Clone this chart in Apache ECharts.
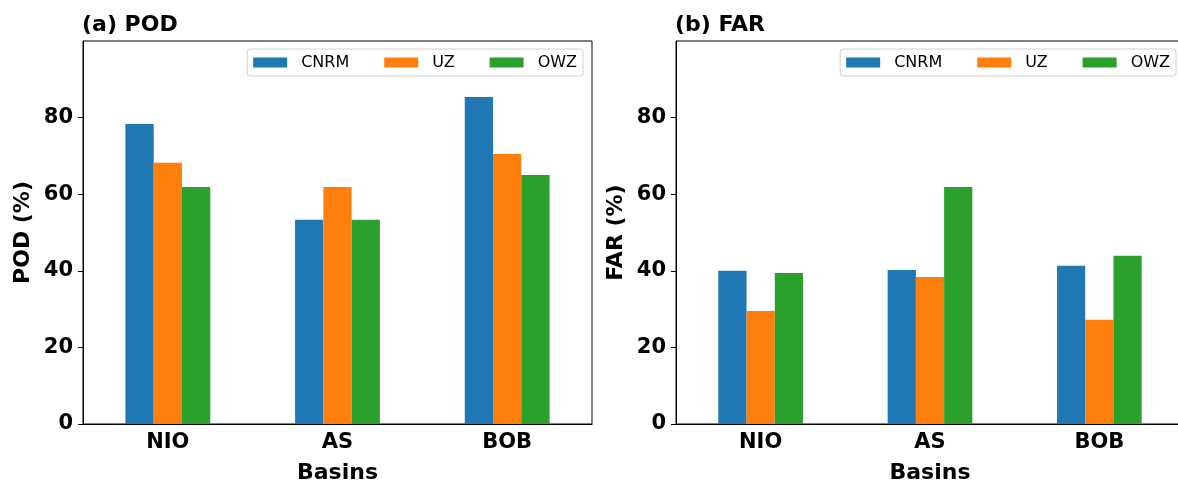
<!DOCTYPE html>
<html>
<head>
<meta charset="utf-8">
<script src="https://cdn.jsdelivr.net/npm/echarts@6/dist/echarts.min.js"></script>
<style>html,body{margin:0;padding:0;background:#fff;overflow:hidden;}#c{width:1178px;height:482px;}</style>
</head>
<body>
<div id="c"></div>
<script>
const categories = ['NIO', 'AS', 'BOB'];
const seriesNames = ['CNRM', 'UZ', 'OWZ'];
const podCNRM = [78.3, 53.3, 85.4];
const podUZ = [68.2, 61.9, 70.5];
const podOWZ = [61.9, 53.3, 65.0];
const farCNRM = [40.0, 40.2, 41.3];
const farUZ = [29.5, 38.4, 27.2];
const farOWZ = [39.4, 61.9, 43.9];
const yTicks = [0, 20, 40, 60, 80];
const colors = ['#1f77b4', '#ff7f0e', '#2ca02c'];

const FONT = 'DejaVu Sans';
const chart = echarts.init(document.getElementById('c'), null, {renderer: 'canvas'});

const grids = [
  {left: 83, right: 586, top: 41, bottom: 58},
  {left: 676, right: -6, top: 41, bottom: 58}
];

function xAxis(i) {
  return {
    type: 'category', gridIndex: i, data: categories,
    name: 'Basins', nameLocation: 'middle', nameGap: 38,
    nameTextStyle: {fontFamily: FONT, fontWeight: 'bold', fontSize: 22, color: '#000'},
    axisLine: {lineStyle: {color: '#000', width: 1}},
    axisTick: {alignWithLabel: true, length: 5, lineStyle: {color: '#000'}},
    axisLabel: {fontFamily: FONT, fontWeight: 'bold', fontSize: 21, color: '#000', margin: 8}
  };
}
function yAxis(i, name) {
  return {
    type: 'value', gridIndex: i, min: 0, max: 100, interval: 20,
    name: name, nameLocation: 'middle', nameGap: 49,
    nameTextStyle: {fontFamily: FONT, fontWeight: 'bold', fontSize: 22, color: '#000'},
    splitLine: {show: false},
    axisLine: {show: true, lineStyle: {color: '#000', width: 1}},
    axisTick: {show: true, length: 5, lineStyle: {color: '#000'}, customValues: yTicks},
    axisLabel: {fontFamily: FONT, fontWeight: 'bold', fontSize: 21, color: '#000', margin: 10, customValues: yTicks}
  };
}
function legend(right) {
  return {
    data: seriesNames.map(n => ({name: n})),
    orient: 'horizontal', right: right, top: 49,
    itemWidth: 34, itemHeight: 10, itemGap: 35,
    padding: [5, 6, 5, 6],
    borderColor: '#d0d0d0', borderWidth: 1, borderRadius: 3,
    backgroundColor: 'rgba(255,255,255,0.8)',
    icon: 'rect',
    textStyle: {fontFamily: FONT, fontSize: 16, lineHeight: 17, color: '#000', padding: [0, 0, 0, 9]}
  };
}

const podData = [podCNRM, podUZ, podOWZ];
const farData = [farCNRM, farUZ, farOWZ];
const series = [];
[podData, farData].forEach((set, gi) => {
  set.forEach((vals, si) => {
    series.push({
      type: 'bar', name: seriesNames[si], xAxisIndex: gi, yAxisIndex: gi,
      data: vals, barGap: '0%', barCategoryGap: '50%',
      itemStyle: {color: colors[si]}, silent: true, animation: false
    });
  });
});

chart.setOption({
  animation: false,
  backgroundColor: '#fff',
  color: colors,
  title: [
    {text: '(a) POD', left: 82, top: 14, padding: 0, textStyle: {fontFamily: FONT, fontWeight: 'bold', fontSize: 22, color: '#000'}},
    {text: '(b) FAR', left: 675, top: 14, padding: 0, textStyle: {fontFamily: FONT, fontWeight: 'bold', fontSize: 22, color: '#000'}}
  ],
  grid: grids.map(g => Object.assign({show: true, borderColor: '#000', borderWidth: 1, backgroundColor: 'transparent', outerBoundsMode: 'none', containLabel: false}, g)),
  legend: [legend(595), legend(2)],
  xAxis: [xAxis(0), xAxis(1)],
  yAxis: [yAxis(0, 'POD (%)'), yAxis(1, 'FAR (%)')],
  series: series
});
</script>
</body>
</html>
